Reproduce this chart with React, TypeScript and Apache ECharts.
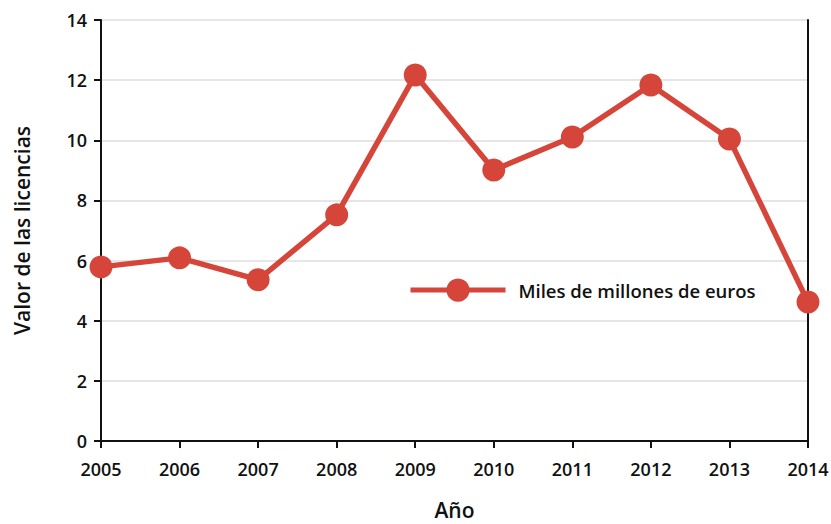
import React, { useEffect, useRef } from "react";
import * as echarts from "echarts";

const years = ["2005", "2006", "2007", "2008", "2009", "2010", "2011", "2012", "2013", "2014"];
const values = [5.79, 6.09, 5.36, 7.52, 12.17, 9.01, 10.11, 11.84, 10.04, 4.62];
const seriesName = "Miles de millones de euros";
const red = "#d5453a";
const font = "'Open Sans', 'Noto Sans', sans-serif";
const ink = "#111";

export default function App() {
  const ref = useRef<HTMLDivElement>(null);
  useEffect(() => {
    const chart = echarts.init(ref.current!, null, { renderer: "svg" });
    chart.setOption({
      animation: false,
      textStyle: { fontFamily: font },
      grid: { left: 101, right: 23, top: 20, bottom: 83, outerBoundsMode: "none", containLabel: false },
      legend: {
        left: 403,
        top: 273.5,
        itemWidth: 95,
        itemHeight: 29,
        lineStyle: { width: 5 },
        textStyle: { fontFamily: font, fontSize: 18.5, fontWeight: 600, color: ink, padding: [0, 0, 0, 8] },
        data: [seriesName],
      },
      xAxis: [
        {
          type: "category",
          data: years,
          boundaryGap: false,
          name: "Año",
          nameLocation: "middle",
          nameGap: 58,
          nameTextStyle: { fontFamily: font, fontSize: 21, fontWeight: 600, color: ink },
          axisLine: { lineStyle: { color: ink, width: 2 } },
          axisTick: { alignWithLabel: true, length: 7, lineStyle: { color: ink, width: 2 } },
          axisLabel: { fontFamily: font, fontSize: 18, fontWeight: 600, color: ink, margin: 19 },
          splitLine: { show: false },
        },
        {
          type: "category",
          data: years,
          boundaryGap: false,
          position: "top",
          axisLine: { show: true, lineStyle: { color: ink, width: 2 } },
          axisTick: { show: false },
          axisLabel: { show: false },
          splitLine: { show: false },
        },
      ],
      yAxis: [
        {
          type: "value",
          min: 0,
          max: 14,
          interval: 2,
          name: "Valor de las licencias",
          nameLocation: "middle",
          nameGap: 69,
          nameTextStyle: { fontFamily: font, fontSize: 21, fontWeight: 600, color: ink },
          axisLine: { show: true, lineStyle: { color: ink, width: 2 } },
          axisTick: { show: true, length: 7, lineStyle: { color: ink, width: 2 } },
          axisLabel: { fontFamily: font, fontSize: 18, fontWeight: 600, color: ink, margin: 14 },
          splitLine: { show: true, lineStyle: { color: "#e6e6e6", width: 2 } },
        },
        {
          type: "value",
          min: 0,
          max: 14,
          interval: 2,
          position: "right",
          axisLine: { show: true, lineStyle: { color: ink, width: 2 } },
          axisTick: { show: false },
          axisLabel: { show: false },
          splitLine: { show: false },
        },
      ],
      series: [
        {
          name: seriesName,
          type: "line",
          data: values,
          symbol: "circle",
          symbolSize: 23,
          lineStyle: { color: red, width: 5.5 },
          itemStyle: { color: red },
          z: 5,
        },
      ],
    });
    return () => chart.dispose();
  }, []);
  return <div ref={ref} style={{ width: 831, height: 524, position: "absolute", left: 0, top: 0 }} />;
}
